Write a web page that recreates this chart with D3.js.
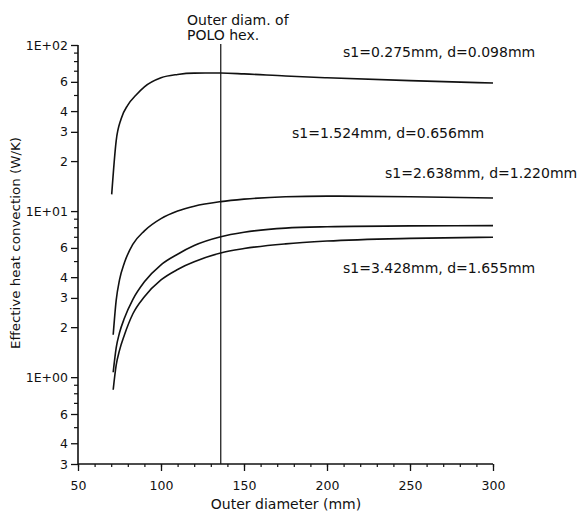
<!DOCTYPE html>
<html>
<head>
<meta charset="utf-8">
<script src="https://cdn.jsdelivr.net/npm/d3@7"></script>
<style>
  html, body { margin: 0; padding: 0; background: #fff; }
  svg { display: block; }
  text { font-family: "DejaVu Sans", sans-serif; fill: #111; }
</style>
</head>
<body>
<svg id="chart" width="588" height="513"></svg>
<script>
// ---- data ----
const diameterTop = [70.3, 73, 76, 80, 85, 90, 100, 110, 120, 136, 150, 175, 200, 250, 300];
const valuesTop   = [12.6, 26.5, 36, 43.5, 50, 56, 63.5, 66.5, 67.7, 67.8, 67, 65, 63.5, 61, 59];

const diameterLow = [71.2, 73, 75, 78, 83, 90, 100, 110, 120, 136, 150, 175, 200, 250, 300];
const values1524  = [1.8, 2.9, 3.85, 4.9, 6.3, 7.6, 9.0, 10.0, 10.7, 11.4, 11.8, 12.2, 12.3, 12.2, 12.0];
const values2638  = [1.07, 1.5, 1.85, 2.27, 2.93, 3.75, 4.75, 5.5, 6.2, 7.0, 7.45, 7.9, 8.05, 8.15, 8.17];
const values3428  = [0.84, 1.18, 1.45, 1.8, 2.4, 3.05, 3.85, 4.45, 4.95, 5.6, 5.95, 6.35, 6.6, 6.85, 6.96];

const seriesLabels = ["s1=0.275mm, d=0.098mm", "s1=1.524mm, d=0.656mm", "s1=2.638mm, d=1.220mm", "s1=3.428mm, d=1.655mm"];

const xMajorTicks = [50, 100, 150, 200, 250, 300];
const xMinorTicks = d3.range(50, 301, 10);
const yLabelTicks = [0.3, 0.4, 0.6, 1, 2, 3, 4, 6, 10, 20, 30, 40, 60, 100];
const yLabelTexts = ["3", "4", "6", "1E+00", "2", "3", "4", "6", "1E+01", "2", "3", "4", "6", "1E+02"];
const yMinorTicks = [0.5, 0.7, 0.8, 0.9, 5, 7, 8, 9, 50, 70, 80, 90];

const poloDiameter = [136];
const xTitle = "Outer diameter (mm)";
const yTitle = "Effective heat convection (W/K)";
const poloText = ["Outer diam. of", "POLO hex."];

// ---- layout ----
const svg = d3.select("#chart");
const x = d3.scaleLinear().domain([50, 300]).range([78, 493]);
const y = d3.scaleLog().domain([0.3, 100]).range([464, 45]);
const ink = "#111";

// x axis
const gx = svg.append("g").attr("transform", `translate(0,${y(0.3)})`);
gx.call(d3.axisBottom(x).tickValues(xMinorTicks).tickSize(3).tickFormat(""));
gx.selectAll(".tick line").attr("stroke", ink).attr("stroke-width", 1.2);
const gx2 = svg.append("g").attr("transform", `translate(0,${y(0.3)})`);
gx2.call(d3.axisBottom(x).tickValues(xMajorTicks).tickSize(7).tickPadding(10).tickFormat(d3.format("d")));
gx2.selectAll(".tick line").attr("stroke", ink).attr("stroke-width", 1.3);
gx2.selectAll(".tick text").attr("font-size", 12.5).attr("fill", ink).style("font-family", "DejaVu Sans, sans-serif");
svg.selectAll(".domain").remove();
svg.append("line").attr("x1", x(50)).attr("x2", x(300)).attr("y1", y(0.3)).attr("y2", y(0.3))
  .attr("stroke", ink).attr("stroke-width", 1.6);

// y axis
const gy = svg.append("g").attr("transform", `translate(${x(50)},0)`);
gy.call(d3.axisLeft(y).tickValues(yMinorTicks).tickSize(4).tickFormat(""));
gy.selectAll(".tick line").attr("stroke", ink).attr("stroke-width", 1.2);
const gy2 = svg.append("g").attr("transform", `translate(${x(50)},0)`);
gy2.call(d3.axisLeft(y).tickValues(yLabelTicks).tickSize(7).tickPadding(3)
  .tickFormat((d, i) => yLabelTexts[i]));
gy2.selectAll(".tick line").attr("stroke", ink).attr("stroke-width", 1.3);
gy2.selectAll(".tick text").attr("font-size", 12.5).attr("fill", ink).style("font-family", "DejaVu Sans, sans-serif");
svg.selectAll(".domain").remove();
svg.append("line").attr("x1", x(50)).attr("x2", x(50)).attr("y1", y(100)).attr("y2", y(0.3))
  .attr("stroke", ink).attr("stroke-width", 1.6);

// POLO line
svg.append("line").attr("x1", x(poloDiameter[0])).attr("x2", x(poloDiameter[0]))
  .attr("y1", y(100) - 1).attr("y2", y(0.3))
  .attr("stroke", ink).attr("stroke-width", 1.2);

// curves
const line = d3.line().x(d => x(d[0])).y(d => y(d[1])).curve(d3.curveMonotoneX);
const series = [
  diameterTop.map((d, i) => [d, valuesTop[i]]),
  diameterLow.map((d, i) => [d, values1524[i]]),
  diameterLow.map((d, i) => [d, values2638[i]]),
  diameterLow.map((d, i) => [d, values3428[i]])
];
svg.selectAll("path.curve").data(series).join("path")
  .attr("class", "curve")
  .attr("d", line)
  .attr("fill", "none").attr("stroke", ink).attr("stroke-width", 1.6);

// annotations
const ann = svg.append("g").attr("font-size", 14);
ann.append("text").attr("x", 187).attr("y", 25).text(poloText[0]);
ann.append("text").attr("x", 187).attr("y", 40).text(poloText[1]);
ann.append("text").attr("x", 343).attr("y", 57).text(seriesLabels[0]);
ann.append("text").attr("x", 292).attr("y", 138).text(seriesLabels[1]);
ann.append("text").attr("x", 385).attr("y", 178).text(seriesLabels[2]);
ann.append("text").attr("x", 343).attr("y", 273).text(seriesLabels[3]);

// titles
svg.append("text").attr("x", 286).attr("y", 509).attr("text-anchor", "middle")
  .attr("font-size", 14).text(xTitle);
svg.append("text").attr("transform", `translate(20,243) rotate(-90)`).attr("text-anchor", "middle")
  .attr("font-size", 13).attr("textLength", 212).attr("lengthAdjust", "spacingAndGlyphs")
  .text(yTitle);
</script>
</body>
</html>
